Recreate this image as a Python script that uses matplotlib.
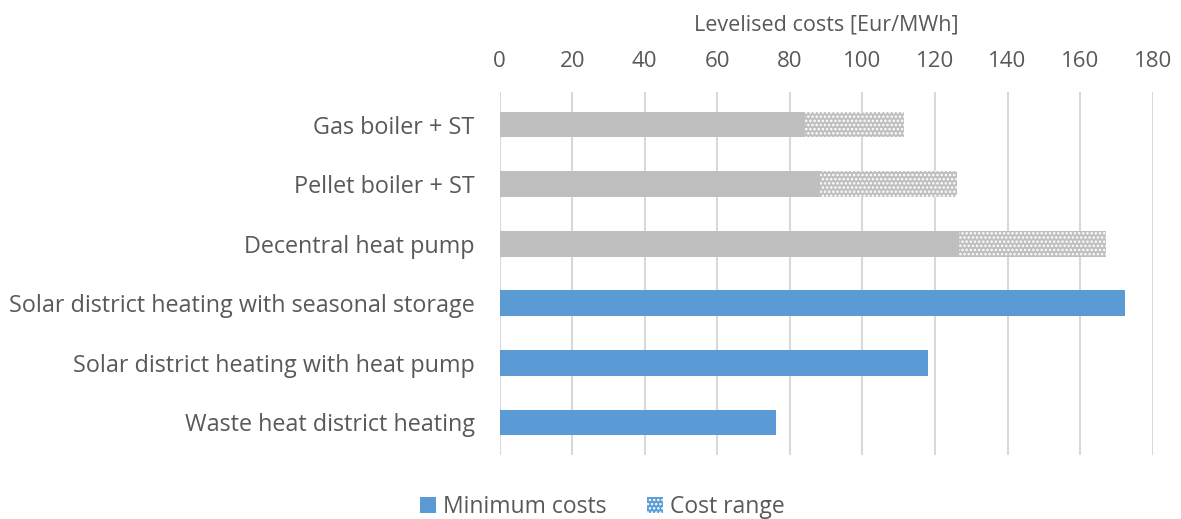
import numpy as np
import matplotlib.pyplot as plt
from matplotlib.patches import Patch

# Données (Eur/MWh)
categories = [
    "Gas boiler + ST",
    "Pellet boiler + ST",
    "Decentral heat pump",
    "Solar district heating with seasonal storage",
    "Solar district heating with heat pump",
    "Waste heat district heating",
]
min_costs = [84.3, 88.4, 126.7, 172.3, 118.2, 76.3]
max_costs = [111.4, 126.1, 167.2, 172.3, 118.2, 76.3]
is_central = [False, False, False, True, True, True]
x_ticks = [0, 20, 40, 60, 80, 100, 120, 140, 160, 180]

GRIS = '#BFBFBF'
BLEU = '#5B9BD5'
TEXTE = '#595959'

plt.rcParams['font.family'] = ['Open Sans', 'DejaVu Sans']
plt.rcParams['hatch.linewidth'] = 1.2

fig = plt.figure(figsize=(11.81, 5.19), dpi=100)
ax = fig.add_axes([0.423, 0.123, 0.553, 0.70])

y = np.arange(len(categories))
couleurs = [BLEU if c else GRIS for c in is_central]
ecart = np.array(max_costs) - np.array(min_costs)

ax.barh(y, min_costs, height=0.43, color=couleurs, zorder=2)
ax.barh(y, ecart, left=min_costs, height=0.43, color=GRIS,
        edgecolor='white', hatch='....', linewidth=0, zorder=2)

ax.set_xlim(0, 180)
ax.set_ylim(len(categories) - 0.45, -0.55)
ax.set_xticks(x_ticks)
ax.set_yticks(y)
ax.set_yticklabels(categories)
ax.xaxis.tick_top()
ax.xaxis.set_label_position('top')
ax.set_xlabel('Levelised costs [Eur/MWh]', fontsize=15.5, color=TEXTE, labelpad=15)
ax.tick_params(axis='both', length=0, labelsize=16, labelcolor=TEXTE)
ax.tick_params(axis='y', labelsize=16.8, pad=18)
ax.tick_params(axis='x', pad=14)
ax.grid(axis='x', color='#D9D9D9', lw=1.5, zorder=0)
for s in ax.spines.values():
    s.set_visible(False)

handles = [Patch(facecolor=BLEU, label='Minimum costs'),
           Patch(facecolor=BLEU, edgecolor='white', hatch='....',
                 linewidth=0, label='Cost range')]
fig.legend(handles=handles, loc='lower center', bbox_to_anchor=(0.51, -0.04),
           ncol=2, frameon=False, fontsize=16.5, handlelength=0.7,
           handleheight=0.7, handletextpad=0.3, columnspacing=1.8,
           labelcolor=TEXTE)

plt.savefig('out.png', dpi=100)
